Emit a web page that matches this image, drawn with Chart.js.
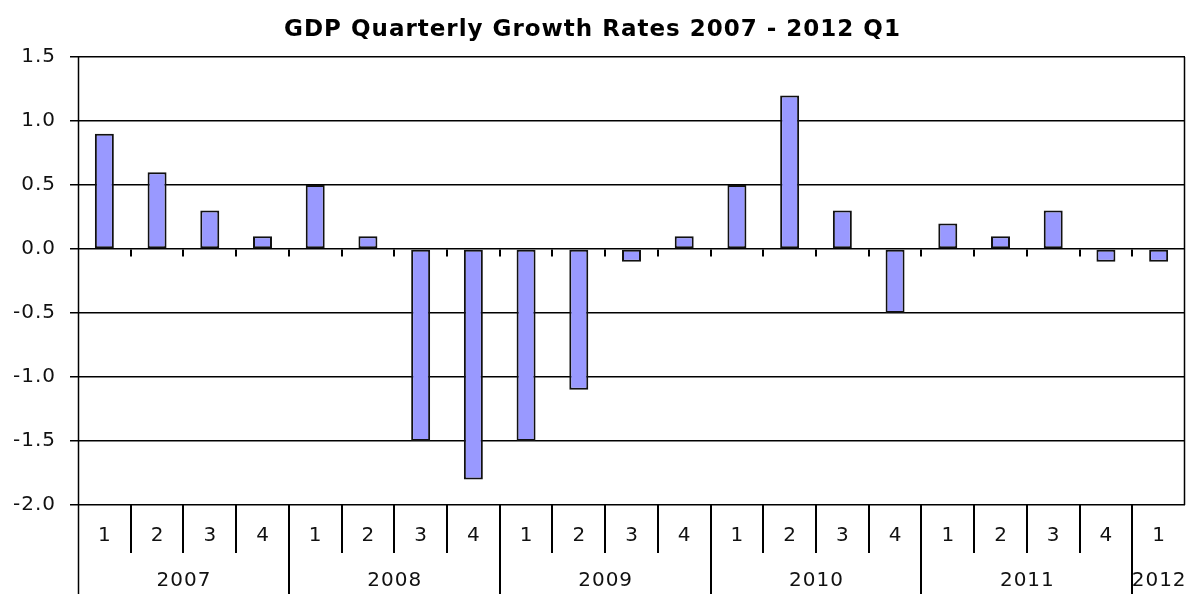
<!DOCTYPE html>
<html>
<head>
<meta charset="utf-8">
<script src="https://cdn.jsdelivr.net/npm/chart.js@4"></script>
<style>
  html, body { margin: 0; padding: 0; background: #fff; }
  #wrap { width: 1189px; height: 594px; }
</style>
</head>
<body>
<div id="wrap"><canvas id="gdpChart" width="1189" height="594"></canvas></div>
<script>
// data
var quarters = ["1", "2", "3", "4", "1", "2", "3", "4", "1", "2", "3", "4",
                "1", "2", "3", "4", "1", "2", "3", "4", "1"];
var years = ["2007", "2008", "2009", "2010", "2011", "2012"];
var quartersPerYear = [4, 4, 4, 4, 4, 1];
var growth = [0.9, 0.6, 0.3, 0.1,
              0.5, 0.1, -1.5, -1.8,
              -1.5, -1.1, -0.1, 0.1,
              0.5, 1.2, 0.3, -0.5,
              0.2, 0.1, 0.3, -0.1,
              -0.1];

var FONT = "'DejaVu Sans', Verdana, sans-serif";

// the old picture has wide, stretched lettering
var spacing = {
    id: "spacing",
    beforeDraw: function (chart) {
        chart.ctx.letterSpacing = "1px";
    }
};

// Excel style two level category axis, drawn from the x scale
var categoryAxis = {
    id: "categoryAxis",
    afterDraw: function (chart) {
        var ctx = chart.ctx;
        var area = chart.chartArea;
        var x = chart.scales.x;
        var y = chart.scales.y;
        var y0 = Math.round(y.getPixelForValue(0)) + 0.5;
        var h = chart.height;

        function edge(i) {
            if (i <= 0) return area.left;
            if (i >= quarters.length) return area.right;
            return (x.getPixelForValue(i - 1) + x.getPixelForValue(i)) / 2;
        }

        ctx.save();
        ctx.strokeStyle = "#000";
        ctx.lineWidth = 1.5;

        // left axis runs down to the bottom, right border of plot
        ctx.beginPath();
        ctx.moveTo(Math.round(area.left) + 0.5, area.top);
        ctx.lineTo(Math.round(area.left) + 0.5, h);
        ctx.moveTo(Math.round(area.right) - 0.5, area.top);
        ctx.lineTo(Math.round(area.right) - 0.5, area.bottom);
        ctx.stroke();

        // small ticks under the zero line
        ctx.lineWidth = 2;
        ctx.beginPath();
        for (var i = 1; i < quarters.length; i++) {
            var ex = Math.round(edge(i));
            ctx.moveTo(ex, y0);
            ctx.lineTo(ex, y0 + 7);
        }
        ctx.stroke();

        // separators under the plot
        var yearStarts = [];
        var s = 0;
        for (var k = 0; k < quartersPerYear.length; k++) {
            yearStarts.push(s);
            s += quartersPerYear[k];
        }
        ctx.beginPath();
        for (var j = 1; j < quarters.length; j++) {
            var sx = Math.round(edge(j));
            var bottom = yearStarts.indexOf(j) >= 0 ? h : area.bottom + 48;
            ctx.moveTo(sx, area.bottom);
            ctx.lineTo(sx, bottom);
        }
        ctx.stroke();

        // labels
        ctx.fillStyle = "#111";
        ctx.font = "20px " + FONT;
        ctx.letterSpacing = "1px";
        ctx.textAlign = "center";
        ctx.textBaseline = "middle";
        for (var q = 0; q < quarters.length; q++) {
            ctx.fillText(quarters[q], x.getPixelForValue(q) + 0.5, area.bottom + 31);
        }
        for (var m = 0; m < years.length; m++) {
            var a = edge(yearStarts[m]);
            var b = edge(yearStarts[m] + quartersPerYear[m]);
            ctx.fillText(years[m], (a + b) / 2 + 0.5, area.bottom + 76);
        }
        ctx.restore();
    }
};

new Chart(document.getElementById("gdpChart"), {
    type: "bar",
    data: {
        labels: quarters,
        datasets: [
            {
                data: growth,
                backgroundColor: "#9999FF",
                borderColor: "#111",
                borderWidth: 2,
                borderSkipped: false,
                categoryPercentage: 1.0,
                barPercentage: 0.36
            }
        ]
    },
    options: {
        responsive: false,
        animation: false,
        layout: {
            padding: { left: 0, right: 4, top: 0, bottom: 89 }
        },
        plugins: {
            legend: { display: false },
            tooltip: { enabled: false },
            title: {
                display: true,
                text: "GDP Quarterly Growth Rates 2007 - 2012 Q1",
                color: "#000",
                font: { family: FONT, size: 23, weight: "bold", lineHeight: "24px" },
                padding: { top: 18, bottom: 15 }
            }
        },
        scales: {
            x: {
                display: false
            },
            y: {
                min: -2.0,
                max: 1.5,
                afterFit: function (scale) {
                    scale.width = 78;
                },
                border: { display: false },
                grid: {
                    color: "#000",
                    lineWidth: 1.5,
                    tickLength: 8
                },
                ticks: {
                    stepSize: 0.5,
                    padding: 14,
                    color: "#111",
                    font: { family: FONT, size: 20 },
                    callback: function (v) { return Number(v).toFixed(1); }
                }
            }
        }
    },
    plugins: [spacing, categoryAxis]
});
</script>
</body>
</html>
